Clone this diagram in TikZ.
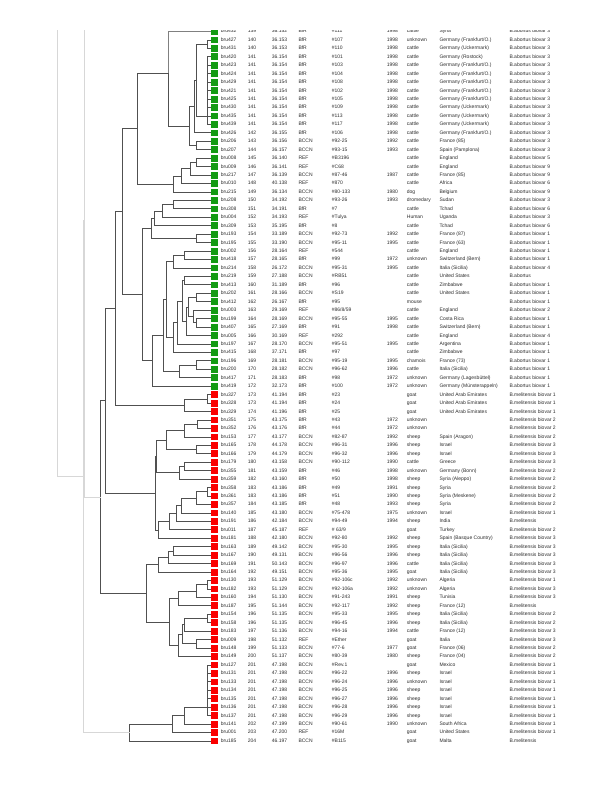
\documentclass[tikz,border=0pt]{standalone}
\usepackage{fontspec}
\newfontfamily\tabfont{Liberation Sans}
\usetikzlibrary{calc}
\definecolor{grn}{RGB}{20,155,20}
\definecolor{rd}{RGB}{250,0,0}
\definecolor{tl}{RGB}{80,80,80}
\definecolor{rootc}{RGB}{215,215,215}
\definecolor{txt}{RGB}{45,45,45}
\tikzset{
  tree/.style={draw=tl,line width=0.9pt,line cap=rect},
  rootline/.style={draw=rootc,line width=1pt,line cap=rect},
  cell/.style={anchor=west,inner sep=0pt,font=\tabfont\fontsize{5}{6}\selectfont,text=txt,text height=3.6pt,text depth=0.8pt},
  sq/.style={minimum size=6.8pt,inner sep=0pt,draw=none,anchor=center}
}
\newcommand\jn[5][tree]{%
  \path let \p1=(#4), \p2=(#5) in coordinate (#2) at (#3pt,{0.5*\y1+0.5*\y2});
  \draw[#1] (#2) |- (#4);
  \draw[#1] (#2) |- (#5);}
\newcommand\rw[9]{\def\rI{#1}\def\rNm{#2}\def\rNo{#3}\def\rVal{#4}\def\rSrc{#5}\def\rId{#6}\def\rYr{#7}\def\rHost{#8}\def\rCtry{#9}\rwfin}
\newcommand\rwfin[1]{%
  \pgfmathsetmacro\ry{31.55+8.446*\rI}%
  \ifnum\rI>42 \def\rC{rd}\else\def\rC{grn}\fi
  \node[sq,fill=\rC] (s\rI) at (214.5,\ry) {};
  \node[cell] (a\rI) at (220.7,\ry) {\rNm};
  \node[cell] (b\rI) at (247.7,\ry) {\rNo};
  \node[cell] (c\rI) at (271.7,\ry) {\rVal};
  \node[cell] (d\rI) at (298.3,\ry) {\rSrc};
  \node[cell] (e\rI) at (331.7,\ry) {\rId};
  \node[cell] (f\rI) at (386.7,\ry) {\rYr};
  \node[cell] (g\rI) at (406.7,\ry) {\rHost};
  \node[cell] (h\rI) at (439.3,\ry) {\rCtry};
  \node[cell] (k\rI) at (509.3,\ry) {#1};
}
\begin{document}
\begin{tikzpicture}[x=1pt,y=-1pt]
\useasboundingbox (0,0) rectangle (600,800);
\fill[white] (0,0) rectangle (600,800);
\begin{scope}
\clip (0,31) rectangle (600,800);
\foreach \i in {0,...,84} {\coordinate (L\i) at (211,{31.55+8.446*\i});}
% ---- root lines (drawn first, underneath)
\coordinate (off1) at (150,-57);
\coordinate (off2) at (150,-500);
% ---- top abortus block
\jn{a12}{207}{L1}{L2}
\jn{c34}{207}{L3}{L4}
\jn{c35}{207}{c34}{L5}
\jn{c36}{207}{c35}{L6}
\jn{c37}{207}{c36}{L7}
\jn{c38}{207}{c37}{L8}
\jn{c39}{207}{c38}{L9}
\jn{c310}{207}{c39}{L10}
\jn{c311}{207}{c310}{L11}
\jn{a196}{196}{a12}{c311}
\jn{a194}{194}{a196}{L12}
\jn{a1314}{196}{L13}{L14}
\jn{a189}{189}{a194}{a1314}
\coordinate (a168) at (168,73);
\draw[tree,draw=gray] (a168) |- (L0);
\draw[tree] (a168) |- (a189);
\jn{b1516}{196}{L15}{L16}
\jn{b17}{190}{b1516}{L17}
\jn{b18}{181}{b17}{L18}
\jn{b19}{173}{b18}{L19}
\jn{b137}{137}{a168}{b19}
\jn{c2021}{173}{L20}{L21}
\jn{c22}{162}{c2021}{L22}
\jn{c23}{154}{c22}{L23}
\jn{c2425}{196}{L24}{L25}
\jn{c151}{151}{c23}{c2425}
\jn{d2627}{184}{L26}{L27}
\jn{d28}{173}{d2627}{L28}
\jn{d2930}{184}{L29}{L30}
\jn{d3132}{196}{L31}{L32}
\jn{d3435}{196}{L34}{L35}
\jn{d33}{193}{L33}{d3435}
\jn{d3135}{188}{d3132}{d33}
\jn{d36}{186}{d3135}{L36}
\jn{d2936}{182}{d2930}{d36}
\jn{d37}{177}{d2936}{L37}
\jn{d38}{173}{d37}{L38}
\jn{d166}{166}{d28}{d38}
\jn{d3940}{196}{L39}{L40}
\jn{d41}{179}{d3940}{L41}
\jn{d163}{163}{d166}{d41}
\jn{d152}{152}{d163}{L42}
\jn{c142}{142}{c151}{d152}
\jn{c122}{122}{b137}{c142}
% ---- melitensis
\jn{e4344}{207}{L43}{L44}
\jn{e45}{184}{e4344}{L45}
\jn{e115}{115}{c122}{e45}
\jn{f4647}{197}{L46}{L47}
\jn{f48}{184}{f4647}{L48}
\jn{f4950}{196}{L49}{L50}
\jn{f166}{166}{f48}{f4950}
\jn{f5152}{184}{L51}{L52}
\jn{f53}{179}{f5152}{L53}
\jn{f156}{156}{f166}{f53}
\jn{g5455}{207}{L54}{L55}
\jn{g56}{196}{g5455}{L56}
\jn{g57}{181}{g56}{L57}
\jn{g58}{176}{g57}{L58}
\jn{g59}{169}{g58}{L59}
\jn{g60}{158}{g59}{L60}
\jn{f155}{155}{f156}{g60}
\jn{h105}{105}{e115}{f155}
\jn{k6162}{173}{L61}{L62}
\jn{k63}{168}{k6162}{L63}
\jn{k64}{158}{k63}{L64}
\jn{m6566}{207}{L65}{L66}
\jn{m67}{196}{m6566}{L67}
\jn{m68}{178}{m67}{L68}
\jn{n6970}{207}{L69}{L70}
\jn{n71}{184}{n6970}{L71}
\jn{n7273}{196}{L72}{L73}
\jn{n182}{182}{n71}{n7273}
\jn{n74}{178}{n182}{L74}
\jn{m169}{169}{m68}{n74}
\jn{k146}{146}{k64}{m169}
\jn{h100}{100}{h105}{k146}
\jn{p7576}{207}{L75}{L76}
\jn{p77}{207}{p7576}{L77}
\jn{p78}{207}{p77}{L78}
\jn{p79}{207}{p78}{L79}
\jn{p80}{207}{p79}{L80}
\jn{p81}{207}{p80}{L81}
\jn{q82}{184}{p81}{L82}
\jn{q83}{172}{q82}{L83}
\jn{q84}{129}{q83}{L84}
% ---- root lines
\jn[rootline]{r85}{84}{off1}{h100}
\jn[rootline]{r83}{83.5}{r85}{q84}
\jn[rootline]{r57}{57}{off2}{r83}
% ---- table
\rw{0}{bru432}{139}{36.152}{BfR}{\#111}{1998}{cattle}{Syria}{B.abortus biovar 3}
\rw{1}{bru427}{140}{36.153}{BfR}{\#107}{1998}{unknown}{Germany (Frankfurt/O.)}{B.abortus biovar 3}
\rw{2}{bru431}{140}{36.153}{BfR}{\#110}{1998}{cattle}{Germany (Uckermark)}{B.abortus biovar 3}
\rw{3}{bru420}{141}{36.154}{BfR}{\#101}{1998}{cattle}{Germany (Rostock)}{B.abortus biovar 3}
\rw{4}{bru423}{141}{36.154}{BfR}{\#103}{1998}{cattle}{Germany (Frankfurt/O.)}{B.abortus biovar 3}
\rw{5}{bru424}{141}{36.154}{BfR}{\#104}{1998}{cattle}{Germany (Frankfurt/O.)}{B.abortus biovar 3}
\rw{6}{bru429}{141}{36.154}{BfR}{\#108}{1998}{cattle}{Germany (Frankfurt/O.)}{B.abortus biovar 3}
\rw{7}{bru421}{141}{36.154}{BfR}{\#102}{1998}{cattle}{Germany (Frankfurt/O.)}{B.abortus biovar 3}
\rw{8}{bru425}{141}{36.154}{BfR}{\#105}{1998}{cattle}{Germany (Frankfurt/O.)}{B.abortus biovar 3}
\rw{9}{bru430}{141}{36.154}{BfR}{\#109}{1998}{cattle}{Germany (Uckermark)}{B.abortus biovar 3}
\rw{10}{bru435}{141}{36.154}{BfR}{\#113}{1998}{cattle}{Germany (Uckermark)}{B.abortus biovar 3}
\rw{11}{bru439}{141}{36.154}{BfR}{\#117}{1998}{cattle}{Germany (Uckermark)}{B.abortus biovar 3}
\rw{12}{bru426}{142}{36.155}{BfR}{\#106}{1998}{cattle}{Germany (Frankfurt/O.)}{B.abortus biovar 3}
\rw{13}{bru206}{143}{36.156}{BCCN}{\#92-25}{1992}{cattle}{France (85)}{B.abortus biovar 3}
\rw{14}{bru207}{144}{36.157}{BCCN}{\#93-15}{1993}{cattle}{Spain (Pamplona)}{B.abortus biovar 3}
\rw{15}{bru008}{145}{36.140}{REF}{\#B3196}{}{cattle}{England}{B.abortus biovar 5}
\rw{16}{bru009}{146}{36.141}{REF}{\#C68}{}{cattle}{England}{B.abortus biovar 9}
\rw{17}{bru217}{147}{36.139}{BCCN}{\#87-46}{1987}{cattle}{France (85)}{B.abortus biovar 9}
\rw{18}{bru010}{148}{40.138}{REF}{\#870}{}{cattle}{Africa}{B.abortus biovar 6}
\rw{19}{bru215}{149}{36.134}{BCCN}{\#80-133}{1980}{dog}{Belgium}{B.abortus biovar 9}
\rw{20}{bru208}{150}{34.192}{BCCN}{\#93-26}{1993}{dromedary}{Sudan}{B.abortus biovar 3}
\rw{21}{bru308}{151}{34.191}{BfR}{\#7}{}{cattle}{Tchad}{B.abortus biovar 6}
\rw{22}{bru004}{152}{34.193}{REF}{\#Tulya}{}{Human}{Uganda}{B.abortus biovar 3}
\rw{23}{bru309}{153}{35.195}{BfR}{\#8}{}{cattle}{Tchad}{B.abortus biovar 6}
\rw{24}{bru193}{154}{33.189}{BCCN}{\#92-73}{1992}{cattle}{France (87)}{B.abortus biovar 1}
\rw{25}{bru195}{155}{33.190}{BCCN}{\#95-11}{1995}{cattle}{France (63)}{B.abortus biovar 1}
\rw{26}{bru002}{156}{28.164}{REF}{\#544}{}{cattle}{England}{B.abortus biovar 1}
\rw{27}{bru418}{157}{28.165}{BfR}{\#99}{1972}{unknown}{Switzerland (Bern)}{B.abortus biovar 1}
\rw{28}{bru214}{158}{26.172}{BCCN}{\#95-31}{1995}{cattle}{Italia (Sicilia)}{B.abortus biovar 4}
\rw{29}{bru219}{159}{27.188}{BCCN}{\#RB51}{}{cattle}{United States}{B.abortus}
\rw{30}{bru413}{160}{31.189}{BfR}{\#96}{}{cattle}{Zimbabwe}{B.abortus biovar 1}
\rw{31}{bru202}{161}{28.166}{BCCN}{\#S19}{}{cattle}{United States}{B.abortus biovar 1}
\rw{32}{bru412}{162}{26.167}{BfR}{\#95}{}{mouse}{}{B.abortus biovar 1}
\rw{33}{bru003}{163}{29.169}{REF}{\#86/8/59}{}{cattle}{England}{B.abortus biovar 2}
\rw{34}{bru199}{164}{28.169}{BCCN}{\#95-55}{1995}{cattle}{Costa Rica}{B.abortus biovar 1}
\rw{35}{bru407}{165}{27.169}{BfR}{\#91}{1998}{cattle}{Switzerland (Bern)}{B.abortus biovar 1}
\rw{36}{bru005}{166}{30.169}{REF}{\#292}{}{cattle}{England}{B.abortus biovar 4}
\rw{37}{bru197}{167}{28.170}{BCCN}{\#95-51}{1995}{cattle}{Argentina}{B.abortus biovar 1}
\rw{38}{bru415}{168}{37.171}{BfR}{\#97}{}{cattle}{Zimbabwe}{B.abortus biovar 1}
\rw{39}{bru196}{169}{28.181}{BCCN}{\#95-19}{1995}{chamois}{France (73)}{B.abortus biovar 1}
\rw{40}{bru200}{170}{28.182}{BCCN}{\#96-62}{1996}{cattle}{Italia (Sicilia)}{B.abortus biovar 1}
\rw{41}{bru417}{171}{28.183}{BfR}{\#98}{1972}{unknown}{Germany (Lagesbüttel)}{B.abortus biovar 1}
\rw{42}{bru419}{172}{32.173}{BfR}{\#100}{1972}{unknown}{Germany (Münsterappeln)}{B.abortus biovar 1}
\rw{43}{bru327}{173}{41.194}{BfR}{\#23}{}{goat}{United Arab Emirates}{B.melitensis biovar 1}
\rw{44}{bru328}{173}{41.194}{BfR}{\#24}{}{goat}{United Arab Emirates}{B.melitensis biovar 1}
\rw{45}{bru329}{174}{41.196}{BfR}{\#25}{}{goat}{United Arab Emirates}{B.melitensis biovar 1}
\rw{46}{bru351}{175}{43.175}{BfR}{\#43}{1972}{unknown}{}{B.melitensis biovar 2}
\rw{47}{bru352}{176}{43.176}{BfR}{\#44}{1972}{unknown}{}{B.melitensis biovar 2}
\rw{48}{bru153}{177}{43.177}{BCCN}{\#82-87}{1992}{sheep}{Spain (Aragon)}{B.melitensis biovar 2}
\rw{49}{bru165}{178}{44.178}{BCCN}{\#96-31}{1996}{sheep}{Israel}{B.melitensis biovar 3}
\rw{50}{bru166}{179}{44.179}{BCCN}{\#96-32}{1996}{sheep}{Israel}{B.melitensis biovar 3}
\rw{51}{bru179}{180}{43.158}{BCCN}{\#90-112}{1990}{cattle}{Greece}{B.melitensis biovar 3}
\rw{52}{bru355}{181}{43.159}{BfR}{\#46}{1998}{unknown}{Germany (Bonn)}{B.melitensis biovar 2}
\rw{53}{bru359}{182}{43.160}{BfR}{\#50}{1998}{sheep}{Syria (Aleppo)}{B.melitensis biovar 2}
\rw{54}{bru358}{183}{43.186}{BfR}{\#49}{1991}{sheep}{Syria}{B.melitensis biovar 2}
\rw{55}{bru361}{183}{43.186}{BfR}{\#51}{1990}{sheep}{Syria (Meskene)}{B.melitensis biovar 2}
\rw{56}{bru357}{184}{43.185}{BfR}{\#48}{1993}{sheep}{Syria}{B.melitensis biovar 2}
\rw{57}{bru140}{185}{43.180}{BCCN}{\#75-478}{1975}{unknown}{Israel}{B.melitensis biovar 1}
\rw{58}{bru191}{186}{42.184}{BCCN}{\#94-49}{1994}{sheep}{India}{B.melitensis}
\rw{59}{bru011}{187}{45.187}{REF}{\# 63/9}{}{goat}{Turkey}{B.melitensis biovar 2}
\rw{60}{bru181}{188}{42.180}{BCCN}{\#92-80}{1992}{sheep}{Spain (Basque Country)}{B.melitensis biovar 3}
\rw{61}{bru163}{189}{49.142}{BCCN}{\#95-30}{1995}{sheep}{Italia (Sicilia)}{B.melitensis biovar 3}
\rw{62}{bru167}{190}{49.131}{BCCN}{\#96-56}{1996}{sheep}{Italia (Sicilia)}{B.melitensis biovar 3}
\rw{63}{bru169}{191}{50.143}{BCCN}{\#96-97}{1996}{cattle}{Italia (Sicilia)}{B.melitensis biovar 3}
\rw{64}{bru164}{192}{49.151}{BCCN}{\#95-36}{1995}{goat}{Italia (Sicilia)}{B.melitensis biovar 3}
\rw{65}{bru130}{193}{51.129}{BCCN}{\#92-106c}{1992}{unknown}{Algeria}{B.melitensis biovar 1}
\rw{66}{bru182}{193}{51.129}{BCCN}{\#92-106a}{1992}{unknown}{Algeria}{B.melitensis biovar 3}
\rw{67}{bru160}{194}{51.130}{BCCN}{\#91-243}{1991}{sheep}{Tunisia}{B.melitensis biovar 3}
\rw{68}{bru187}{195}{51.144}{BCCN}{\#92-117}{1992}{sheep}{France (12)}{B.melitensis}
\rw{69}{bru154}{196}{51.135}{BCCN}{\#95-33}{1995}{sheep}{Italia (Sicilia)}{B.melitensis biovar 2}
\rw{70}{bru158}{196}{51.135}{BCCN}{\#96-45}{1996}{sheep}{Italia (Sicilia)}{B.melitensis biovar 2}
\rw{71}{bru183}{197}{51.136}{BCCN}{\#94-16}{1994}{cattle}{France (12)}{B.melitensis biovar 3}
\rw{72}{bru009}{198}{51.132}{REF}{\#Ether}{}{goat}{Italia}{B.melitensis biovar 3}
\rw{73}{bru148}{199}{51.133}{BCCN}{\#77-6}{1977}{goat}{France (06)}{B.melitensis biovar 2}
\rw{74}{bru149}{200}{51.137}{BCCN}{\#80-39}{1980}{sheep}{France (04)}{B.melitensis biovar 2}
\rw{75}{bru127}{201}{47.198}{BCCN}{\#Rev.1}{}{goat}{Mexico}{B.melitensis biovar 1}
\rw{76}{bru131}{201}{47.198}{BCCN}{\#96-22}{1996}{sheep}{Israel}{B.melitensis biovar 1}
\rw{77}{bru133}{201}{47.198}{BCCN}{\#96-24}{1996}{unknown}{Israel}{B.melitensis biovar 1}
\rw{78}{bru134}{201}{47.198}{BCCN}{\#96-25}{1996}{sheep}{Israel}{B.melitensis biovar 1}
\rw{79}{bru135}{201}{47.198}{BCCN}{\#96-27}{1996}{sheep}{Israel}{B.melitensis biovar 1}
\rw{80}{bru136}{201}{47.198}{BCCN}{\#96-28}{1996}{sheep}{Israel}{B.melitensis biovar 1}
\rw{81}{bru137}{201}{47.198}{BCCN}{\#96-29}{1996}{sheep}{Israel}{B.melitensis biovar 1}
\rw{82}{bru141}{202}{47.199}{BCCN}{\#90-61}{1990}{unknown}{South Africa}{B.melitensis biovar 1}
\rw{83}{bru001}{203}{47.200}{REF}{\#16M}{}{goat}{United States}{B.melitensis biovar 1}
\rw{84}{bru185}{204}{46.197}{BCCN}{\#B115}{}{goat}{Malta}{B.melitensis}
\end{scope}
\end{tikzpicture}
\end{document}
